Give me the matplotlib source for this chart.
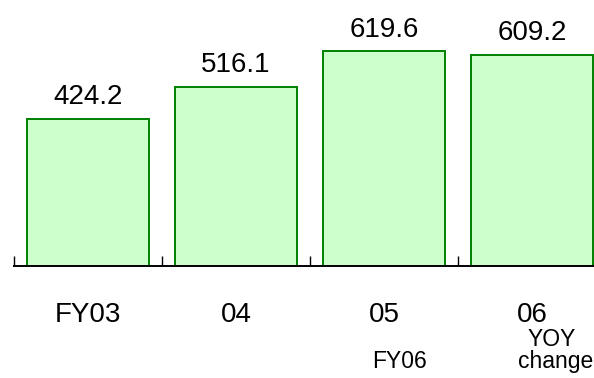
import matplotlib
matplotlib.use("Agg")
import matplotlib.pyplot as plt

# Net sales by fiscal year
categories = ["FY03", "04", "05", "06"]
values = [424.2, 516.1, 619.6, 609.2]

plt.rcParams["font.family"] = ["Liberation Sans", "DejaVu Sans"]

W, H, DPI = 594, 378, 100
fig = plt.figure(figsize=(W / DPI, H / DPI), dpi=DPI)

# axes: left edge at x=14px, baseline at y=266px (from top), runs to the right edge
ax = fig.add_axes([14 / W, 112 / H, 580 / W, 266 / H])
ax.set_xlim(-0.5, -0.5 + 580 / 148)
ax.set_ylim(0, 767)

x = list(range(len(categories)))
bars = ax.bar(x, values, width=0.83, color="#ccffcc", edgecolor="#008000",
              linewidth=1.4, zorder=2)

for xi, v in zip(x, values):
    ax.annotate(f"{v:.1f}", xy=(xi, v), xytext=(0, 10.5), textcoords="offset points",
                ha="center", va="baseline", fontsize=20, color="black")

# category labels below the axis
for xi, c in zip(x, categories):
    ax.annotate(c, xy=(xi, 0), xytext=(0, -40.5), textcoords="offset points",
                ha="center", va="baseline", fontsize=20, color="black",
                annotation_clip=False)

# footnote labels
ax.annotate("FY06", xy=(2.108, 0), xytext=(0, -73.5), textcoords="offset points",
            ha="center", va="baseline", fontsize=16.5, annotation_clip=False)
ax.annotate("YOY", xy=(3.13, 0), xytext=(0, -57.5), textcoords="offset points",
            ha="center", va="baseline", fontsize=16.5, annotation_clip=False)
ax.annotate("change", xy=(3.16, 0), xytext=(0, -73.5), textcoords="offset points",
            ha="center", va="baseline", fontsize=16.5, annotation_clip=False)

# axis styling: only the baseline with short inward separator ticks
for s in ["top", "right", "left"]:
    ax.spines[s].set_visible(False)
ax.spines["bottom"].set_linewidth(1.4)
ax.spines["bottom"].set_zorder(3)
ax.set_yticks([])
ax.set_xticks([-0.5, 0.5, 1.5, 2.5])
ax.set_xticklabels([])
ax.tick_params(axis="x", direction="in", length=7.5, width=1.0, color="black")
ax.patch.set_alpha(0)

fig.savefig("out.png", dpi=DPI)
